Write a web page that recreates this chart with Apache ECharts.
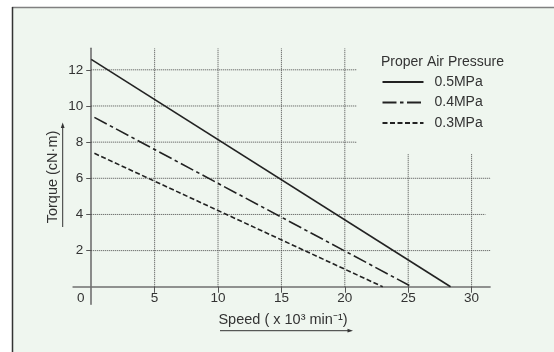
<!DOCTYPE html>
<html>
<head>
<meta charset="utf-8">
<script src="https://cdn.jsdelivr.net/npm/echarts@6/dist/echarts.min.js"></script>
<style>
html,body{margin:0;padding:0;background:#fff;}
#chart{width:554px;height:352px;}
</style>
</head>
<body>
<div id="chart"></div>
<script>
// ---- data ----
const pressures = ['0.5MPa', '0.4MPa', '0.3MPa'];
const speed05 = [0, 28.34];
const torque05 = [12.58, 0];
const speed04 = [0.25, 25.28];
const torque04 = [9.37, 0];
const speed03 = [0.25, 22.99];
const torque03 = [7.38, 0];
const speedTicks = [5, 10, 15, 20, 25, 30];
const torqueTicks = [2, 4, 6, 8, 10, 12];
// grid line extents (value units)
const hGridValues = [2, 4, 6, 8, 10, 12];
const hGridEnds = [31.46, 31.1, 31.46, 20.9, 20.9, 20.9];
const vGridValues = [5, 10, 15, 20, 25, 30];
const vGridTops = [13.19, 13.19, 13.19, 13.19, 7.34, 7.34];
const xRange = [-1.43, 31.46];
const yRange = [-0.97, 13.19];

const FONT = '"Liberation Sans", Arial, Helvetica, sans-serif';
const TXT = '#333';

const W = 554, H = 352;
const gridBox = {left: 73.1, right: 63.9, top: 48.3, bottom: 47.7};
const gridW = W - gridBox.left - gridBox.right;
const gridH = H - gridBox.top - gridBox.bottom;
// shift axes so they pass through zero
const yAxisOffset = -((0 - xRange[0]) / (xRange[1] - xRange[0])) * gridW;
const xAxisOffset = -((0 - yRange[0]) / (yRange[1] - yRange[0])) * gridH;

const chart = echarts.init(document.getElementById('chart'), null, {renderer: 'canvas'});

function zip(xs, ys) { return xs.map((x, i) => [x, ys[i]]); }

const gridSeries = [];
hGridValues.forEach((v, i) => {
  gridSeries.push({
    type: 'line', silent: true, symbol: 'none', z: 1, animation: false,
    lineStyle: {color: '#4a4a4a', width: 1, type: [1, 1]},
    data: [[0, v], [hGridEnds[i], v]]
  });
});
vGridValues.forEach((v, i) => {
  gridSeries.push({
    type: 'line', silent: true, symbol: 'none', z: 1, animation: false,
    lineStyle: {color: '#4a4a4a', width: 1, type: [1, 1]},
    data: [[v, 0], [v, vGridTops[i]]]
  });
});

const dataSeries = [
  {name: pressures[0], xs: speed05, ys: torque05, dash: 'solid'},
  {name: pressures[1], xs: speed04, ys: torque04, dash: [14, 3.5, 3.5, 3.5]},
  {name: pressures[2], xs: speed03, ys: torque03, dash: [5, 2.5]}
].map(s => ({
  name: s.name, type: 'line', symbol: 'none', z: 3, animation: false,
  lineStyle: {color: '#222', width: 1.6, type: s.dash},
  itemStyle: {color: '#222'},
  data: zip(s.xs, s.ys)
}));

const option = {
  backgroundColor: '#fff',
  animation: false,
  textStyle: {fontFamily: FONT},
  title: {
    text: 'Proper Air Pressure',
    left: 378, top: 55, padding: [0, 0, 0, 3],
    textStyle: {fontFamily: FONT, fontSize: 14, fontWeight: 'normal', color: TXT}
  },
  legend: {
    orient: 'vertical', left: 381.5, top: 75, padding: 0,
    itemWidth: 41, itemHeight: 14, itemGap: 6.5,
    data: pressures,
    itemStyle: {opacity: 0},
    textStyle: {fontFamily: FONT, fontSize: 14, color: TXT, padding: [0, 0, 0, 6]}
  },
  grid: Object.assign({containLabel: false}, gridBox),
  xAxis: {
    type: 'value', min: xRange[0], max: xRange[1],
    offset: xAxisOffset,
    axisLine: {show: true, onZero: false, lineStyle: {color: '#707070', width: 1.6}},
    axisTick: {show: true, length: 6, customValues: speedTicks, lineStyle: {color: '#555', width: 1}},
    axisLabel: {show: true, customValues: speedTicks, margin: 5, fontFamily: FONT, fontSize: 13.5, color: TXT},
    splitLine: {show: false}
  },
  yAxis: {
    type: 'value', min: yRange[0], max: yRange[1],
    offset: yAxisOffset,
    axisLine: {show: true, onZero: false, lineStyle: {color: '#707070', width: 1.6}},
    axisTick: {show: true, length: 5, customValues: torqueTicks, lineStyle: {color: '#555', width: 1}},
    axisLabel: {show: true, customValues: torqueTicks, margin: 8, fontFamily: FONT, fontSize: 13.5, color: TXT},
    splitLine: {show: false}
  },
  graphic: [
    {type: 'rect', z: -100, silent: true, shape: {x: 12, y: 7, width: 560, height: 360}, style: {fill: '#eff6ef'}},
    {type: 'line', z: -90, silent: true, shape: {x1: 12, y1: 7.5, x2: 554, y2: 7.5}, style: {stroke: '#808080', lineWidth: 1.5}},
    {type: 'line', z: -90, silent: true, shape: {x1: 12.5, y1: 7, x2: 12.5, y2: 352}, style: {stroke: '#333', lineWidth: 1.5}},
    {type: 'text', z: 10, x: 80.7, y: 298.3, style: {text: '0', font: '13.5px ' + FONT, fill: TXT, align: 'center', verticalAlign: 'middle'}},
    {type: 'text', z: 10, x: 53.3, y: 177, rotation: Math.PI / 2,
      style: {text: 'Torque (cN·m)', font: '14.5px ' + FONT, fill: TXT, align: 'center', verticalAlign: 'middle'}},
    {type: 'line', z: 10, shape: {x1: 62.7, y1: 227, x2: 62.7, y2: 126}, style: {stroke: '#333', lineWidth: 1}},
    {type: 'polygon', z: 10, shape: {points: [[62.7, 122.5], [60.8, 128], [64.6, 128]]}, style: {fill: '#333'}},
    {type: 'text', z: 10, x: 283, y: 320, style: {text: 'Speed ( x 10³ min⁻¹)', font: '14.5px ' + FONT, fill: TXT, align: 'center', verticalAlign: 'middle'}},
    {type: 'line', z: 10, shape: {x1: 220, y1: 330.7, x2: 349, y2: 330.7}, style: {stroke: '#333', lineWidth: 1}},
    {type: 'polygon', z: 10, shape: {points: [[353, 330.7], [347.5, 328.8], [347.5, 332.6]]}, style: {fill: '#333'}}
  ],
  series: gridSeries.concat(dataSeries)
};
chart.setOption(option);
</script>
</body>
</html>
